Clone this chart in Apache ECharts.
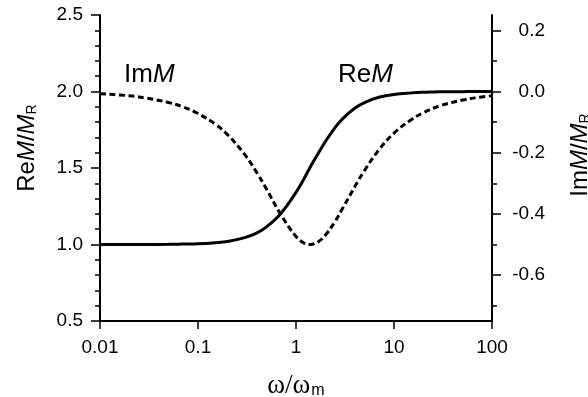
<!DOCTYPE html>
<html>
<head>
<meta charset="utf-8">
<script src="https://cdn.jsdelivr.net/npm/echarts@6/dist/echarts.min.js"></script>
<style>html,body{margin:0;padding:0;background:#fff}#c{width:588px;height:397px}</style>
</head>
<body>
<div id="c"></div>
<script>
// frequency ratio ω/ω_m
var omega = [0.01, 0.02, 0.03, 0.05, 0.07, 0.1, 0.15, 0.2, 0.3, 0.4, 0.5, 0.7, 1, 1.2, 1.4, 1.7, 2, 2.5, 3, 4, 5, 7, 10, 15, 20, 30, 50, 70, 100];
// ReM/M_R (left axis)
var reM = [1.000, 1.000, 1.000, 1.001, 1.003, 1.005, 1.012, 1.020, 1.045, 1.076, 1.115, 1.203, 1.341, 1.427, 1.507, 1.599, 1.674, 1.764, 1.823, 1.892, 1.928, 1.962, 1.981, 1.991, 1.995, 1.998, 1.999, 2.000, 2.000];
// ImM/M_R (right axis)
var imM = [-0.007, -0.014, -0.022, -0.036, -0.050, -0.072, -0.107, -0.141, -0.206, -0.266, -0.319, -0.402, -0.474, -0.495, -0.500, -0.490, -0.469, -0.425, -0.381, -0.310, -0.258, -0.191, -0.136, -0.092, -0.069, -0.046, -0.028, -0.020, -0.014];
// tick labels
var xTicks = [0.01, 0.1, 1, 10, 100];
var leftTicks = [0.5, 1.0, 1.5, 2.0, 2.5];
var rightTicks = [-0.6, -0.4, -0.2, 0.0, 0.2];
var rightMinorTicks = [-0.7, -0.5, -0.3, -0.1, 0.1];

var FONT = '"Liberation Sans", Arial, sans-serif';
var chart = echarts.init(document.getElementById('c'), null, {renderer: 'canvas'});

function pairs(xs, ys) { return xs.map(function (x, i) { return [x, ys[i]]; }); }

var axisLineStyle = {color: '#000', width: 2};
var tickStyle = {color: '#000', width: 1.5};
var nameRich = {
  a: {fontFamily: FONT, fontSize: 24, color: '#000', verticalAlign: 'bottom', lineHeight: 28},
  i: {fontFamily: FONT, fontSize: 24, fontStyle: 'italic', color: '#000', verticalAlign: 'bottom', lineHeight: 28},
  s: {fontFamily: FONT, fontSize: 14, color: '#000', verticalAlign: 'bottom', lineHeight: 21}
};

chart.setOption({
  animation: false,
  backgroundColor: '#fff',
  grid: {left: 100, right: 96, top: 15, bottom: 76, containLabel: false, outerBoundsMode: 'none'},
  xAxis: {
    type: 'log', logBase: 10, min: 0.01, max: 100,
    axisLine: {show: true, onZero: false, lineStyle: axisLineStyle},
    axisTick: {show: true, length: 8, lineStyle: tickStyle},
    minorTick: {show: false},
    splitLine: {show: false},
    axisLabel: {
      color: '#000', fontFamily: FONT, fontSize: 19, margin: 17,
      formatter: function (v) { return xTicks.indexOf(v) >= 0 ? String(v) : ''; }
    },
    name: '{w|ω/ω}{s|m}',
    nameLocation: 'middle', nameGap: 48,
    nameTextStyle: {
      rich: {
        w: {fontFamily: '"Liberation Serif", "Times New Roman", serif', fontSize: 27, color: '#000', verticalAlign: 'bottom', lineHeight: 30},
        s: {fontFamily: FONT, fontSize: 16, color: '#000', verticalAlign: 'bottom', lineHeight: 23, padding: [0, 0, 0, 1]}
      }
    }
  },
  yAxis: [
    {
      type: 'value', position: 'left', min: 0.5, max: 2.5, interval: 0.5,
      axisLine: {show: true, onZero: false, lineStyle: axisLineStyle},
      axisTick: {show: true, length: 9, lineStyle: tickStyle},
      minorTick: {show: true, splitNumber: 5, length: 5, lineStyle: tickStyle},
      splitLine: {show: false},
      axisLabel: {
        color: '#000', fontFamily: FONT, fontSize: 19, margin: 17,
        formatter: function (v) { return v.toFixed(1); }
      },
      name: '{a|Re}{i|M}{a|/}{i|M}{s|R}',
      nameLocation: 'middle', nameGap: 61, nameRotate: 90,
      nameTextStyle: {padding: [0, 0, 0, 40], rich: nameRich}
    },
    {
      type: 'value', position: 'right', min: -0.75, max: 0.25,
      axisLine: {show: true, onZero: false, lineStyle: axisLineStyle},
      axisTick: {show: true, length: 9, lineStyle: tickStyle, customValues: rightTicks},
      splitLine: {show: false},
      axisLabel: {
        color: '#000', fontFamily: FONT, fontSize: 19, margin: 53, align: 'right',
        customValues: rightTicks,
        formatter: function (v) { return (Math.abs(v) < 1e-9 ? 0 : v).toFixed(1); }
      },
      name: '{a|Im}{i|M}{a|/}{i|M}{s|R}',
      nameLocation: 'middle', nameGap: 72, nameRotate: 90,
      nameTextStyle: {padding: [0, 0, 0, 26], rich: nameRich}
    },
    {
      type: 'value', position: 'right', min: -0.75, max: 0.25,
      axisLine: {show: false},
      axisTick: {show: true, length: 5, lineStyle: tickStyle, customValues: rightMinorTicks},
      axisLabel: {show: false},
      splitLine: {show: false}
    }
  ],
  graphic: [
    {type: 'text', left: 124, top: 62, style: {
      text: '{a|Im}{i|M}',
      rich: {
        a: {fontFamily: FONT, fontSize: 26, fill: '#000'},
        i: {fontFamily: FONT, fontSize: 26, fontStyle: 'italic', fill: '#000'}
      }
    }},
    {type: 'text', left: 338, top: 62, style: {
      text: '{a|Re}{i|M}',
      rich: {
        a: {fontFamily: FONT, fontSize: 26, fill: '#000'},
        i: {fontFamily: FONT, fontSize: 26, fontStyle: 'italic', fill: '#000'}
      }
    }}
  ],
  series: [
    {
      name: 'ReM', type: 'line', yAxisIndex: 0, data: pairs(omega, reM),
      showSymbol: false, symbol: 'none', smooth: 0.4,
      lineStyle: {color: '#000', width: 3, type: 'solid'}
    },
    {
      name: 'ImM', type: 'line', yAxisIndex: 1, data: pairs(omega, imM),
      showSymbol: false, symbol: 'none', smooth: 0.4,
      lineStyle: {color: '#000', width: 3, type: [6, 3.5]}
    }
  ]
});
</script>
</body>
</html>
